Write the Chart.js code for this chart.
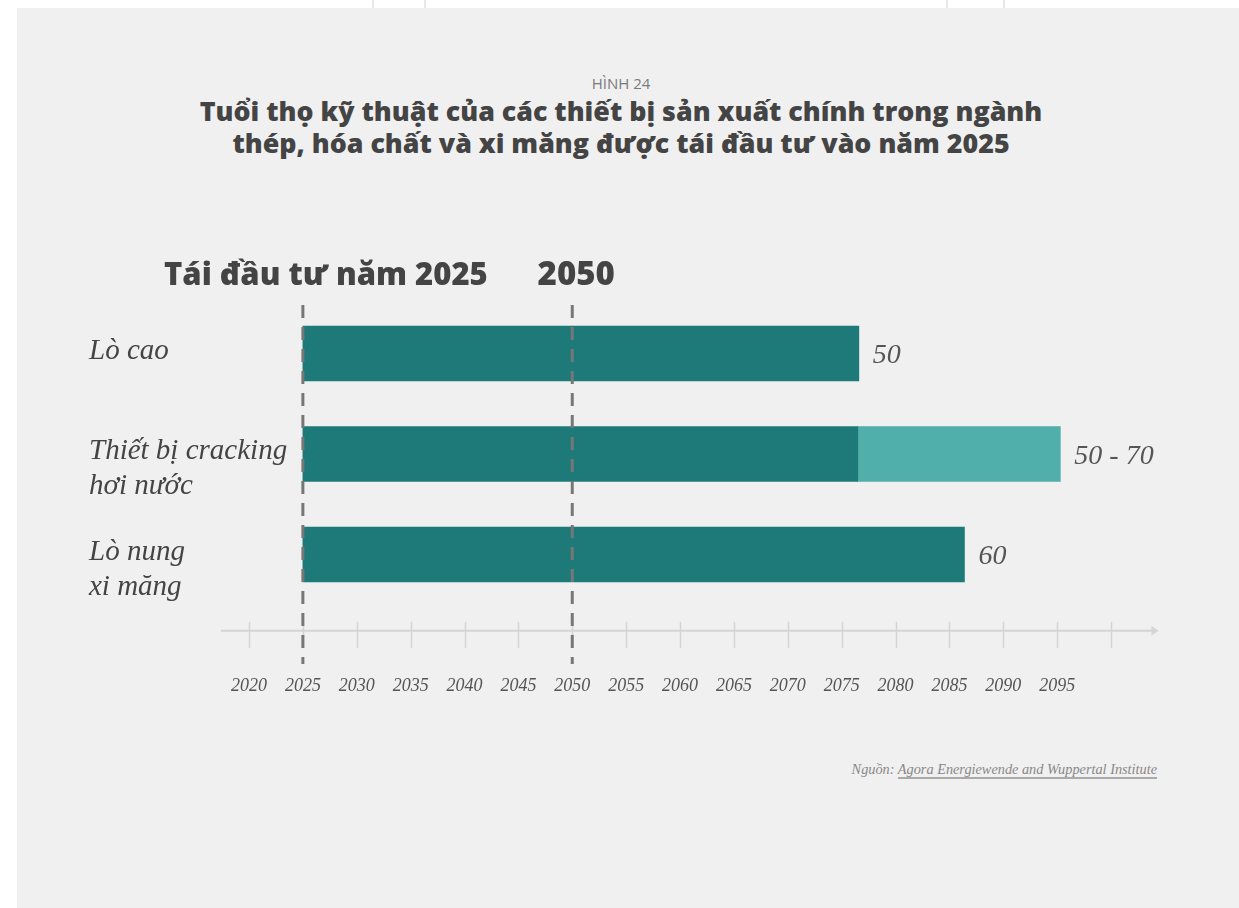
<!DOCTYPE html>
<html lang="vi">
<head>
<meta charset="utf-8">
<title>Hình 24</title>
<script src="https://cdn.jsdelivr.net/npm/chart.js@4.4.1/dist/chart.umd.min.js"></script>
<style>
  html, body { margin: 0; padding: 0; background: #fff; }
  body { width: 1239px; height: 908px; position: relative; overflow: hidden; }
  .panel { position: absolute; left: 17px; top: 8px; width: 1222px; height: 900px; background: #f0f0f0; }
  .notch { position: absolute; top: 0; width: 2px; height: 8px; background: #e8e8e8; }
  .figure-no { position: absolute; left: 0; width: 1242px; top: 73px; text-align: center;
    font: 15px 'Open Sans', sans-serif; color: #7a7a7a; }
  .title { position: absolute; left: 0; width: 1242px; top: 95px; text-align: center;
    font: 800 26.8px/32px 'Open Sans', sans-serif; color: #444; }
  .source { position: absolute; right: 82px; top: 760px; font: italic 14.3px/18px 'Liberation Serif', serif; color: #888; }
  .source span { border-bottom: 2px solid #aaa; }
  #chart { position: absolute; left: 0; top: 0; }
</style>
</head>
<body>
<div class="notch" style="left:372px"></div>
<div class="notch" style="left:424px"></div>
<div class="notch" style="left:946px"></div>
<div class="notch" style="left:1003px"></div>
<div class="panel"></div>
<div class="figure-no">HÌNH 24</div>
<div class="title">Tuổi thọ kỹ thuật của các thiết bị sản xuất chính trong ngành<br>thép, hóa chất và xi măng được tái đầu tư vào năm 2025</div>
<div class="source">Nguồn: <span>Agora Energiewende and Wuppertal Institute</span></div>
<canvas id="chart" width="1239" height="908"></canvas>
<script>
// Data
const categories = [['Lò cao'], ['Thiết bị cracking', 'hơi nước'], ['Lò nung', 'xi măng']];
const reinvestYear = [2025, 2025, 2025];
const baseEnd = [2076.6, 2076.5, 2086.4];
const rangeEnd = [null, 2095.3, null];
const valueLabels = ['50', '50 - 70', '60'];
const markerYears = [2025, 2050];
const markerTitles = ['Tái đầu tư năm 2025', '2050'];

const DARK = '#1e7a78';
const LIGHT = '#50afab';
const serif = "'Liberation Serif', serif";
const sans = "'Open Sans', sans-serif";

// Custom drawing: axis line with arrow, tick marks, dashed markers, labels
const timelinePlugin = {
    id: 'timeline',
    beforeDatasetsDraw(chart) {
        const ctx = chart.ctx;
        const x = chart.scales.x;
        const area = chart.chartArea;
        const axisY = area.bottom + 26;
        ctx.save();
        ctx.strokeStyle = '#d4d4d4';
        ctx.lineWidth = 2;
        ctx.beginPath();
        ctx.moveTo(x.getPixelForValue(2017.4), axisY);
        ctx.lineTo(x.getPixelForValue(2103.8), axisY);
        ctx.stroke();
        // arrow head
        const tip = x.getPixelForValue(2104.4);
        ctx.fillStyle = '#d4d4d4';
        ctx.beginPath();
        ctx.moveTo(tip, axisY);
        ctx.lineTo(tip - 7, axisY - 5);
        ctx.lineTo(tip - 7, axisY + 5);
        ctx.closePath();
        ctx.fill();
        // tick marks
        ctx.lineWidth = 1.5;
        x.ticks.forEach(t => {
            const px = Math.round(x.getPixelForValue(t.value)) + 0.5;
            ctx.beginPath();
            ctx.moveTo(px, axisY - 9);
            ctx.lineTo(px, axisY + 17);
            ctx.stroke();
        });
        ctx.restore();
    },
    afterDatasetsDraw(chart) {
        const ctx = chart.ctx;
        const x = chart.scales.x;
        const y = chart.scales.y;
        ctx.save();

        // dashed reference lines
        ctx.strokeStyle = '#777';
        ctx.lineWidth = 3;
        ctx.setLineDash([13, 9]);
        markerYears.forEach(yr => {
            const px = x.getPixelForValue(yr);
            ctx.beginPath();
            ctx.moveTo(px, 305);
            ctx.lineTo(px, 664);
            ctx.stroke();
        });
        ctx.setLineDash([]);

        // marker headers
        ctx.fillStyle = '#444';
        ctx.font = '800 31px ' + sans;
        ctx.textBaseline = 'alphabetic';
        ctx.textAlign = 'center';
        ctx.fillText(markerTitles[0], x.getPixelForValue(markerYears[0]) + 23, 285);
        ctx.font = '800 33px ' + sans;
        ctx.fillText(markerTitles[1], x.getPixelForValue(markerYears[1]) + 4, 285);

        // category labels
        ctx.textAlign = 'left';
        ctx.font = 'italic 29px ' + serif;
        categories.forEach((lines, i) => {
            const cy = y.getPixelForValue(i);
            lines.forEach((line, j) => {
                ctx.fillText(line, 89, cy + 5 + j * 35);
            });
        });

        // value labels at bar ends
        ctx.fillStyle = '#555';
        ctx.font = 'italic 28px ' + serif;
        valueLabels.forEach((txt, i) => {
            const end = rangeEnd[i] !== null ? rangeEnd[i] : baseEnd[i];
            ctx.fillText(txt, x.getPixelForValue(end) + 14, y.getPixelForValue(i) + 9.5);
        });
        ctx.restore();
    }
};

const ctx = document.getElementById('chart').getContext('2d');
const chart = new Chart(ctx, {
    type: 'bar',
    data: {
        labels: categories,
        datasets: [{
            label: 'Tuổi thọ',
            data: categories.map((c, i) => [reinvestYear[i], baseEnd[i]]),
            backgroundColor: DARK,
            barThickness: 55,
            grouped: false
        }, {
            label: 'Khoảng',
            data: rangeEnd.map((e, i) => e === null ? null : [baseEnd[i], e]),
            backgroundColor: LIGHT,
            barThickness: 55,
            grouped: false
        }]
    },
    options: {
        indexAxis: 'y',
        responsive: false,
        animation: false,
        devicePixelRatio: 1,
        layout: {
            padding: { left: 89, right: 128, top: 303.25, bottom: 193.25 }
        },
        plugins: {
            legend: { display: false },
            tooltip: { enabled: false }
        },
        scales: {
            x: {
                type: 'linear',
                min: 2020,
                max: 2100,
                grid: { display: false, drawTicks: false },
                border: { display: false },
                ticks: {
                    stepSize: 5,
                    autoSkip: false,
                    maxRotation: 0,
                    padding: 71,
                    color: '#555',
                    font: { family: serif, style: 'italic', size: 18 },
                    callback: v => v === 2100 ? '' : String(v)
                },
                afterFit: s => { s.height = 110; }
            },
            y: {
                grid: { display: false },
                border: { display: false },
                ticks: { display: false },
                afterFit: s => { s.width = 160; }
            }
        }
    },
    plugins: [timelinePlugin]
});
</script>
</body>
</html>
